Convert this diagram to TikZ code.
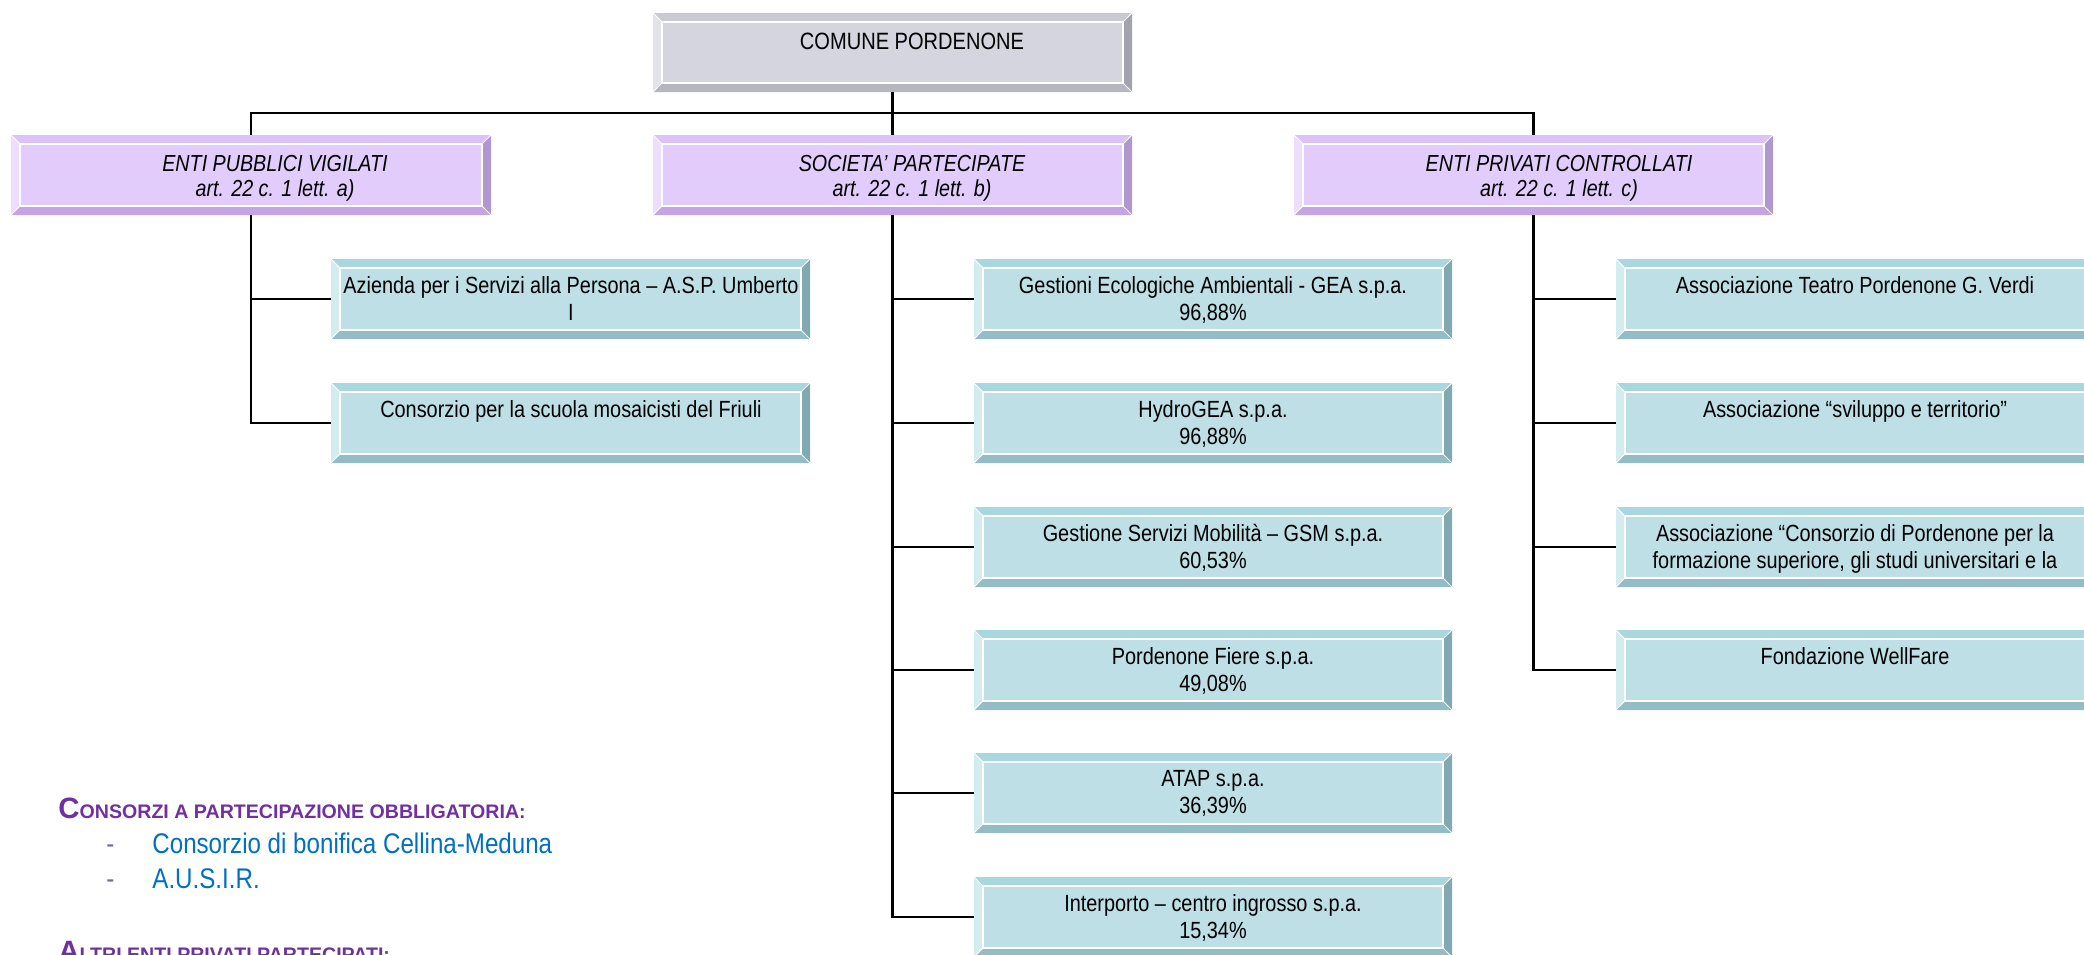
\documentclass[tikz,border=0pt]{standalone}
\usepackage{fontspec}
\setmainfont{Liberation Sans}
\newfontfamily\narrowfont{Liberation Sans}[FakeStretch=0.85]
\newfontfamily\widefont{Liberation Sans}
\definecolor{grT}{HTML}{CACAD4}
\definecolor{grL}{HTML}{E2E2EA}
\definecolor{grR}{HTML}{A3A3AD}
\definecolor{grB}{HTML}{B6B6C0}
\definecolor{grF}{HTML}{D5D5DF}
\definecolor{puT}{HTML}{DCC2F8}
\definecolor{puL}{HTML}{EEDDFD}
\definecolor{puR}{HTML}{B098CE}
\definecolor{puB}{HTML}{C4A4E2}
\definecolor{puF}{HTML}{E2CCFB}
\definecolor{blT}{HTML}{A8D7DF}
\definecolor{blL}{HTML}{D3ECF0}
\definecolor{blR}{HTML}{81A9B1}
\definecolor{blB}{HTML}{93BCC6}
\definecolor{blF}{HTML}{BEDFE5}
\definecolor{headpurple}{HTML}{7030A0}
\definecolor{listblue}{HTML}{0070C0}
\definecolor{dashgray}{HTML}{7A6A8C}
% #1 name, #2 x1, #3 y1, #4 x2, #5 y2, #6 palette
\newcommand\bevbox[6]{%
  \fill[#6T] (#2,#3) -- (#4,#3) -- ({#4-9},{#3+9}) -- ({#2+9},{#3+9}) -- cycle;
  \fill[#6L] (#2,#3) -- ({#2+9},{#3+9}) -- ({#2+9},{#5-9}) -- (#2,#5) -- cycle;
  \fill[#6R] (#4,#3) -- (#4,#5) -- ({#4-9},{#5-9}) -- ({#4-9},{#3+9}) -- cycle;
  \fill[#6B] (#2,#5) -- (#4,#5) -- ({#4-9},{#5-9}) -- ({#2+9},{#5-9}) -- cycle;
  \fill[#6F] ({#2+9},{#3+9}) rectangle ({#4-9},{#5-9});
  \draw[white, line width=0.7pt] ({#2+9},{#3+9}) rectangle ({#4-9},{#5-9});
  \draw[white, line width=0.5pt] (#2,#3) -- ({#2+9},{#3+9}) (#4,#3) -- ({#4-9},{#3+9})
     (#2,#5) -- ({#2+9},{#5-9}) (#4,#5) -- ({#4-9},{#5-9});
  \node[anchorbox, minimum width={(#4-#2)*0.5}, minimum height={(#5-#3)*0.5}] (#1)
     at ({(#2+#4)/2},{(#3+#5)/2}) {};
}
\begin{document}
\begin{tikzpicture}[x=0.5pt,y=-0.5pt,
  anchorbox/.style={inner sep=0pt, outer sep=0pt, draw=none},
  conn/.style={draw=black, line width=1.1pt},
  toptext/.style={font={\narrowfont\fontsize{11.8}{14}\selectfont}, anchor=north, inner sep=0pt},
  gtext/.style={font={\narrowfont\itshape\fontsize{11.6}{12.5}\selectfont}, align=center, anchor=north, inner sep=0pt},
  ctext/.style={font={\narrowfont\fontsize{11.7}{13.5}\selectfont}, align=center, anchor=north, inner sep=0pt},
  headtext/.style={text=headpurple, anchor=base west, inner sep=0pt, font={\widefont\bfseries}},
  listtext/.style={text=listblue, anchor=base west, inner sep=0pt, font={\narrowfont\fontsize{14.2}{18}\selectfont}},
  dashtext/.style={text=dashgray, anchor=base west, inner sep=0pt, font={\narrowfont\fontsize{14.2}{18}\selectfont}}]
\useasboundingbox (0,0) rectangle (2084,954);
\clip (0,0) rectangle (2084,954);
\fill[white] (0,0) rectangle (2084,954);

% top box and groups
\bevbox{top}{653}{13}{1132}{92}{gr}
\bevbox{g1}{11}{135}{491}{215}{pu}
\bevbox{g2}{653}{135}{1132}{215}{pu}
\bevbox{g3}{1294}{135}{1773}{215}{pu}

% children
\bevbox{a1}{331}{259}{810}{339}{bl}
\bevbox{a2}{331}{383}{810}{463}{bl}
\bevbox{b1}{974}{259}{1452}{339}{bl}
\bevbox{b2}{974}{383}{1452}{463}{bl}
\bevbox{b3}{974}{507}{1452}{587}{bl}
\bevbox{b4}{974}{630}{1452}{710}{bl}
\bevbox{b5}{974}{753}{1452}{833}{bl}
\bevbox{b6}{974}{877}{1452}{957}{bl}
\bevbox{c1}{1616}{259}{2094}{339}{bl}
\bevbox{c2}{1616}{383}{2094}{463}{bl}
\bevbox{c3}{1616}{507}{2094}{587}{bl}
\bevbox{c4}{1616}{630}{2094}{710}{bl}

% connectors
\coordinate (bus) at (892,113);
\draw[conn] (top.south) -- (g2.north);
\draw[conn] (g1.north) |- (bus) -| (g3.north);
\draw[conn] (g1.south) |- (a2.west);
\draw[conn] (a1.west) -- (a1.west -| g1.south);
\draw[conn] (g2.south) |- (b6.west);
\foreach \n in {b1,b2,b3,b4,b5}{\draw[conn] (\n.west) -- (\n.west -| g2.south);}
\draw[conn] (g3.south) |- (c4.west);
\foreach \n in {c1,c2,c3}{\draw[conn] (\n.west) -- (\n.west -| g3.south);}

% texts
\node[toptext] (ttop) at (912,33) {COMUNE PORDENONE};
\node[gtext] (tg1) at (275,155) {ENTI PUBBLICI VIGILATI\\art. 22 c. 1 lett. a)};
\node[gtext] (tg2) at (912,155) {SOCIETA’ PARTECIPATE\\art. 22 c. 1 lett. b)};
\node[gtext] (tg3) at (1559,155) {ENTI PRIVATI CONTROLLATI\\art. 22 c. 1 lett. c)};

\node[ctext] (ta1) at (571,276) {Azienda per i Servizi alla Persona – A.S.P. Umberto\\I};
\node[ctext] (ta2) at (571,400) {Consorzio per la scuola mosaicisti del Friuli};
\node[ctext] (tb1) at (1213,276) {Gestioni Ecologiche Ambientali - GEA s.p.a.\\96,88\%};
\node[ctext] (tb2) at (1213,400) {HydroGEA s.p.a.\\96,88\%};
\node[ctext] (tb3) at (1213,524) {Gestione Servizi Mobilità – GSM s.p.a.\\60,53\%};
\node[ctext] (tb4) at (1213,647) {Pordenone Fiere s.p.a.\\49,08\%};
\node[ctext] (tb5) at (1213,770) {ATAP s.p.a.\\36,39\%};
\node[ctext] (tb6) at (1213,894) {Interporto – centro ingrosso s.p.a.\\15,34\%};
\node[ctext] (tc1) at (1855,276) {Associazione Teatro Pordenone G. Verdi};
\node[ctext] (tc2) at (1855,400) {Associazione “sviluppo e territorio”};
\node[ctext] (tc3) at (1855,524) {Associazione “Consorzio di Pordenone per la\\formazione superiore, gli studi universitari e la};
\node[ctext] (tc4) at (1855,647) {Fondazione WellFare};

% bottom lists
\node[headtext] (h1) at (58,818) {{\fontsize{14.7}{16}\selectfont C}{\fontsize{9.8}{12}\selectfont ONSORZI A PARTECIPAZIONE OBBLIGATORIA:}};
\node[dashtext] (d1) at (106,853) {-};
\node[listtext] (l1) at (152,853) {Consorzio di bonifica Cellina-Meduna};
\node[dashtext] (d2) at (106,888) {-};
\node[listtext] (l2) at (152,888) {A.U.S.I.R.};
\node[headtext] (h2) at (58,961) {{\fontsize{14.7}{16}\selectfont A}{\fontsize{9.8}{12}\selectfont LTRI ENTI PRIVATI PARTECIPATI:}};
\end{tikzpicture}
\end{document}
